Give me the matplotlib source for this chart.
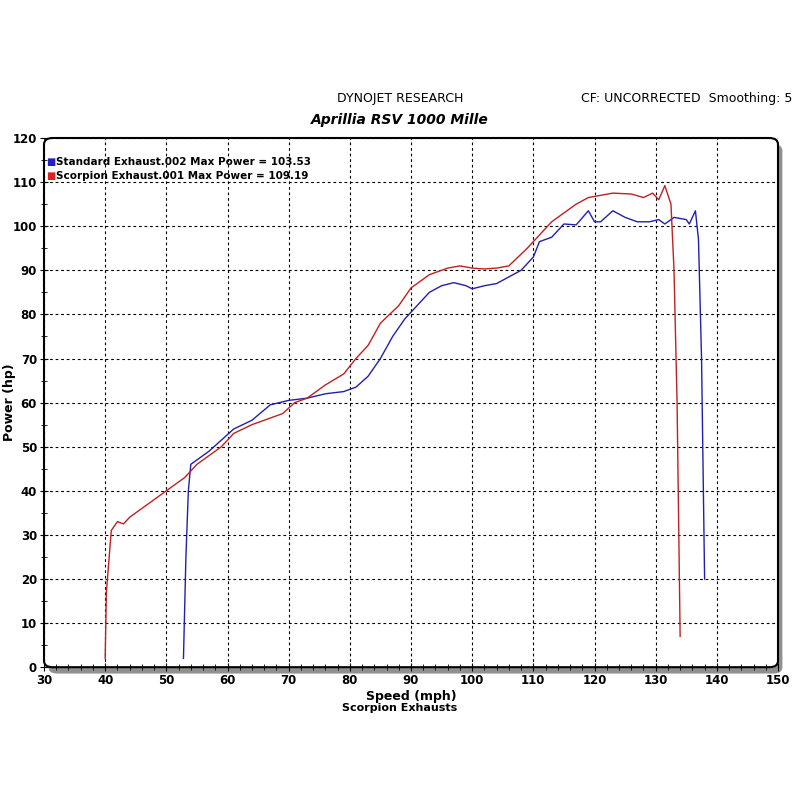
import matplotlib
matplotlib.use("Agg")
import matplotlib.pyplot as plt
from matplotlib.patches import FancyBboxPatch
import numpy as np

red_x = [40, 40.2, 41, 42, 43, 44, 46, 50, 53, 55, 57, 59, 61, 64, 67, 69, 71, 73, 76, 79, 81, 83, 85, 88, 90, 93, 96, 98, 100, 102, 104, 106, 109, 111, 113, 115, 117, 119, 121, 123, 126, 128, 129.5, 130.5, 131.5, 132.5, 133, 133.5, 134]
red_y = [2, 17, 31, 33, 32.5, 34, 36, 40, 43, 46, 48, 50, 53, 55, 56.5, 57.5, 60, 61, 64, 66.5, 70, 73, 78, 82, 86, 89, 90.5, 91, 90.5, 90.3, 90.5, 91, 95, 98, 101, 103, 105, 106.5, 107, 107.5, 107.3, 106.5, 107.5, 106, 109.2, 105, 90, 60, 7]
blue_x = [52.8, 53.2, 53.6, 54, 55, 57, 59, 61, 64, 67, 70, 73, 76, 79, 81, 83, 85, 87, 89, 91, 93, 95, 97, 99, 100, 102, 104, 106, 108, 110, 111, 113, 115, 117, 119, 120, 121, 123, 125, 127, 129, 130.5, 131.5, 133, 135, 135.5, 136.5, 137, 137.5, 138]
blue_y = [2, 25, 40, 46, 47, 49, 51.5, 54, 56, 59.5, 60.5, 61, 62, 62.5, 63.5, 66, 70, 75, 79, 82, 85, 86.5, 87.2, 86.5, 85.8, 86.5, 87, 88.5, 90, 93, 96.5, 97.5, 100.5, 100.3, 103.5, 101, 101, 103.5, 102, 101, 101, 101.5, 100.5, 102, 101.5, 100.5, 103.5, 97, 70, 20]

fig = plt.figure(figsize=(8, 8), dpi=100)
ax = fig.add_axes([0.055, 0.166, 0.9175, 0.6615])
shadow = FancyBboxPatch((0.006, -0.012), 1.0, 1.0, boxstyle="round,pad=0,rounding_size=0.012",
                        transform=ax.transAxes, facecolor="#909090", edgecolor="none", zorder=-2, clip_on=False)
frame = FancyBboxPatch((0, 0), 1.0, 1.0, boxstyle="round,pad=0,rounding_size=0.012",
                       transform=ax.transAxes, facecolor="white", edgecolor="black", lw=1.5, zorder=-1, clip_on=False)
ax.add_patch(shadow); ax.add_patch(frame)
ax.set_axisbelow(False)
ax.plot(blue_x, blue_y, color="#2020b0", lw=1.0, zorder=3)
ax.plot(red_x, red_y, color="#c02020", lw=1.0, zorder=3)
ax.set_xlim(30, 150)
ax.set_ylim(0, 120)
ax.set_xticks(np.arange(30, 151, 10))
ax.set_yticks(np.arange(0, 121, 10))
ax.set_xticks(np.arange(30, 151, 2), minor=True)
ax.set_yticks(np.arange(0, 121, 5), minor=True)
ax.grid(True, which="major", color="black", linestyle=(0, (2.5, 2.5)), lw=0.8, zorder=1)
for s in ax.spines.values():
    s.set_visible(False)
ax.tick_params(which="both", direction="inout", length=6, labelsize=8.5, pad=2)
ax.tick_params(which="minor", length=5)
for lab in ax.get_xticklabels() + ax.get_yticklabels():
    lab.set_fontweight("bold")
ax.patch.set_alpha(0)
ax.set_xlabel("Speed (mph)", fontsize=9, fontweight="bold", labelpad=2)
fig.text(0.012, 0.497, "Power (hp)", rotation=90, ha="center", va="center", fontsize=9, fontweight="bold")

fig.text(0.5, 0.873, "DYNOJET RESEARCH", ha="center", fontsize=9)
fig.text(0.5, 0.845, "Aprillia RSV 1000 Mille", ha="center", fontsize=10, fontweight="bold", style="italic")
fig.text(0.99, 0.873, "CF: UNCORRECTED  Smoothing: 5", ha="right", fontsize=9)
fig.text(0.5, 0.111, "Scorpion Exhausts", ha="center", fontsize=8, fontweight="bold")

ax.text(0.003, 0.955, "\u25a0", color="#2020d0", transform=ax.transAxes, fontsize=7, va="center")
ax.text(0.016, 0.955, "Standard Exhaust.002 Max Power = 103.53", transform=ax.transAxes, fontsize=7.5, fontweight="bold", va="center")
ax.text(0.003, 0.929, "\u25a0", color="#e02020", transform=ax.transAxes, fontsize=7, va="center")
ax.text(0.016, 0.929, "Scorpion Exhaust.001 Max Power = 109.19", transform=ax.transAxes, fontsize=7.5, fontweight="bold", va="center")
fig.savefig("out.png", dpi=100)
